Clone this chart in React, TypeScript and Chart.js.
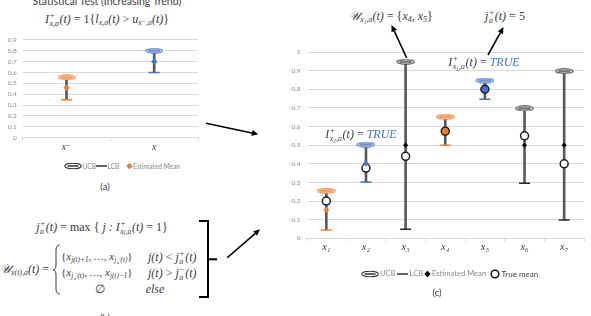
import React, { useEffect, useRef } from "react";
import { Chart, registerables } from "chart.js";

Chart.register(...registerables);

// ---- panel (a): two-arm increasing-trend test ----
const trendCategories = ["x⁻", "x"];
const trendUcb = [0.555, 0.8];
const trendLcb = [0.35, 0.6];
const trendMean = [0.46, 0.7];
const trendKinds: Kind[] = ["orange", "blue"];
const trendTickLabels = ["0", "0.1", "0.2", "0.3", "0.4", "0.5", "0.6", "0.7", "0.8", "0.9"];

// ---- panel (c): seven arms with confidence bounds ----
const armCategories = ["x₁", "x₂", "x₃", "x₄", "x₅", "x₆", "x₇"];
const armUcb = [0.255, 0.503, 0.948, 0.652, 0.847, 0.697, 0.897];
const armLcb = [0.045, 0.302, 0.048, 0.5, 0.747, 0.295, 0.098];
const armEstMean = [0.153, 0.402, 0.5, 0.578, 0.8, 0.5, 0.5];
const armTrueMean = [0.2, 0.377, 0.44, 0.575, 0.8, 0.55, 0.4];
const armKinds: Kind[] = ["orange", "blue", "gray", "orange", "blue", "gray", "gray"];
const armTickLabels = ["0", "0.1", "0.2", "0.3", "0.4", "0.5", "0.6", "0.7", "0.8", "0.9", "1"];

type Kind = "orange" | "blue" | "gray";

const palette: Record<Kind, { stroke: string; fill: string; mark: string; cap: string }> = {
  orange: { stroke: "#ED7D31", fill: "#FBE5D6", mark: "#ED7D31", cap: "#ED7D31" },
  blue: { stroke: "#4472C4", fill: "#DAE3F3", mark: "#4472C4", cap: "#4472C4" },
  gray: { stroke: "#3a3a3a", fill: "#FFFFFF", mark: "#000000", cap: "#262626" },
};

const tickFont = "Lato, 'Open Sans', sans-serif";
const mathFont = "'Liberation Serif', 'DejaVu Serif', serif";
const GRID = "#d9d9d9";
const BAR = "#595959";

function ellipseMarker(stroke: string, fill: string, w: number, h: number) {
  const c = document.createElement("canvas");
  c.width = w;
  c.height = h;
  const g = c.getContext("2d")!;
  g.beginPath();
  g.ellipse(w / 2, h / 2, w / 2 - 0.8, h / 2 - 0.8, 0, 0, Math.PI * 2);
  g.fillStyle = fill;
  g.fill();
  g.lineWidth = 1.1;
  g.strokeStyle = stroke;
  g.stroke();
  g.beginPath();
  g.moveTo(w / 2 - w * 0.32, h / 2);
  g.lineTo(w / 2 + w * 0.32, h / 2);
  g.lineWidth = 1.4;
  g.stroke();
  return c;
}

interface IntervalChartProps {
  categories: string[];
  ucb: number[];
  lcb: number[];
  est: number[];
  truth?: number[];
  kinds: Kind[];
  yMax: number;
  tickLabels: string[];
  left: number;
  top: number;
  width: number;
  height: number;
  padTop: number;
  padRight: number;
  yWidth: number;
  xHeight: number;
  ellipse: [number, number];
  diamond: number[];
  catFontSize: number;
  catPadding: number;
}

function IntervalChart(p: IntervalChartProps) {
  const ref = useRef<HTMLCanvasElement>(null);
  useEffect(() => {
    const ellipses = p.kinds.map((k) => ellipseMarker(palette[k].stroke, palette[k].fill, p.ellipse[0], p.ellipse[1]));
    const datasets: any[] = [
      {
        type: "bar",
        label: "range",
        data: p.lcb.map((l, i) => [l, p.ucb[i]]),
        backgroundColor: BAR,
        borderWidth: 0,
        barThickness: 2,
        order: 6,
      },
      {
        type: "line",
        label: "LCB",
        data: p.lcb,
        showLine: false,
        pointStyle: "line",
        pointRadius: 5.5,
        pointBorderWidth: 1.5,
        pointBorderColor: p.kinds.map((k) => palette[k].cap),
        order: 5,
      },
      {
        type: "line",
        label: "UCB",
        data: p.ucb,
        showLine: false,
        pointStyle: ellipses,
        pointRadius: 4,
        order: 4,
      },
      {
        type: "line",
        label: "Estimated Mean",
        data: p.est,
        showLine: false,
        pointStyle: "rectRot",
        pointRadius: p.diamond,
        pointBorderWidth: 0,
        pointBackgroundColor: p.kinds.map((k) => palette[k].mark),
        pointBorderColor: p.kinds.map((k) => palette[k].mark),
        order: 2,
      },
    ];
    if (p.truth) {
      datasets.push({
        type: "line",
        label: "True mean",
        data: p.truth,
        showLine: false,
        pointStyle: "circle",
        pointRadius: 4,
        pointBorderWidth: 1.5,
        pointBorderColor: "#1e1e1e",
        pointBackgroundColor: p.kinds.map((k, i) =>
          Math.abs(p.truth![i] - p.est[i]) < 0.01 ? palette[k].mark : "#FFFFFF"
        ),
        order: 3,
      });
    }
    const chart = new Chart(ref.current!, {
      type: "bar",
      data: { labels: p.categories, datasets },
      options: {
        animation: false,
        responsive: false,
        maintainAspectRatio: false,
        events: [],
        layout: { padding: { top: p.padTop, right: p.padRight, left: 0, bottom: 0 } },
        plugins: { legend: { display: false }, tooltip: { enabled: false } },
        scales: {
          x: {
            grid: { display: true, drawOnChartArea: false, drawTicks: true, tickLength: 3, color: GRID, offset: true },
            border: { color: GRID },
            ticks: {
              font: { family: mathFont, size: p.catFontSize, style: "italic" },
              color: "#404040",
              padding: p.catPadding,
            },
            afterFit: (s: any) => {
              s.height = p.xHeight;
            },
          },
          y: {
            min: 0,
            max: p.yMax,
            ticks: {
              stepSize: 0.1,
              callback: (_v: any, i: number) => p.tickLabels[i],
              font: { family: tickFont, size: 6.5 },
              color: "#8c8c8c",
              padding: 6,
            },
            grid: { color: GRID, drawTicks: false },
            border: { display: false },
            afterFit: (s: any) => {
              s.width = p.yWidth;
            },
          },
        },
      } as any,
    });
    return () => chart.destroy();
  }, []);
  return (
    <canvas
      ref={ref}
      width={p.width}
      height={p.height}
      style={{ position: "absolute", left: p.left, top: p.top, width: p.width, height: p.height }}
    />
  );
}

function Tx({
  x,
  y,
  anchor = "center",
  children,
  style,
}: {
  x: number;
  y: number;
  anchor?: "center" | "left";
  children: React.ReactNode;
  style?: React.CSSProperties;
}) {
  const tx = anchor === "center" ? "-50%" : "0";
  return (
    <div
      style={{
        position: "absolute",
        left: x,
        top: y,
        transform: `translate(${tx}, -50%)`,
        whiteSpace: "nowrap",
        lineHeight: 1,
        ...style,
      }}
    >
      {children}
    </div>
  );
}

function SS({ sup, sub }: { sup?: React.ReactNode; sub?: React.ReactNode }) {
  return (
    <span
      style={{
        display: "inline-flex",
        flexDirection: "column",
        verticalAlign: "middle",
        fontSize: "0.66em",
        lineHeight: 1.0,
        margin: "0 0.5px",
      }}
    >
      <span>{sup ?? "\u00a0"}</span>
      <span>{sub ?? "\u00a0"}</span>
    </span>
  );
}
const Sb = ({ children }: { children: React.ReactNode }) => (
  <span style={{ fontSize: "0.66em", verticalAlign: "-0.3em" }}>{children}</span>
);
const Up = ({ children }: { children: React.ReactNode }) => <span style={{ fontStyle: "normal" }}>{children}</span>;

const mathStyle: React.CSSProperties = { fontFamily: mathFont, fontStyle: "italic", fontSize: 12, color: "#3a3a3a" };
const caseStyle: React.CSSProperties = { ...mathStyle, fontSize: 11 };
const SCRIPT_U = "𝒰";

function Arrow({ x1, y1, x2, y2 }: { x1: number; y1: number; x2: number; y2: number }) {
  const a = Math.atan2(y2 - y1, x2 - x1);
  const L = 6.5;
  const W = 3;
  const bx = x2 - L * Math.cos(a);
  const by = y2 - L * Math.sin(a);
  const px = -Math.sin(a) * W;
  const py = Math.cos(a) * W;
  return (
    <g>
      <line x1={x1} y1={y1} x2={bx} y2={by} stroke="#000" strokeWidth={1.6} />
      <polygon points={`${x2},${y2} ${bx + px},${by + py} ${bx - px},${by - py}`} fill="#000" />
    </g>
  );
}

function LegendEllipse() {
  return (
    <svg width={18} height={7} style={{ verticalAlign: "middle" }}>
      <ellipse cx={9} cy={3.5} rx={8.3} ry={2.8} fill="#fff" stroke="#333" strokeWidth={1.1} />
      <line x1={3.5} y1={3.5} x2={14.5} y2={3.5} stroke="#333" strokeWidth={1.3} />
    </svg>
  );
}
function LegendLine() {
  return (
    <svg width={11} height={4} style={{ verticalAlign: "middle" }}>
      <line x1={0} y1={2} x2={11} y2={2} stroke="#333" strokeWidth={1.5} />
    </svg>
  );
}
function LegendDiamond({ color }: { color: string }) {
  return (
    <svg width={7} height={7} style={{ verticalAlign: "middle" }}>
      <polygon points="3.5,0.3 6.7,3.5 3.5,6.7 0.3,3.5" fill={color} />
    </svg>
  );
}
function LegendCircle() {
  return (
    <svg width={10} height={10} style={{ verticalAlign: "middle" }}>
      <circle cx={5} cy={5} r={3.8} fill="#fff" stroke="#111" strokeWidth={1.5} />
    </svg>
  );
}

// a legend entry anchored at a fixed left edge
function Pin({ x, y, children }: { x: number; y: number; children: React.ReactNode }) {
  return (
    <div style={{ position: "absolute", left: x, top: y, transform: "translateY(-50%)", whiteSpace: "nowrap", lineHeight: 1, display: "flex", alignItems: "center" }}>
      {children}
    </div>
  );
}

const legendA: React.CSSProperties = { fontFamily: tickFont, fontSize: 6.6, color: "#8c8c8c" };
const legendC: React.CSSProperties = { fontFamily: tickFont, fontSize: 7.6, color: "#8c8c8c" };

export default function App() {
  return (
    <div
      style={{
        position: "absolute",
        left: 0,
        top: 0,
        width: 591,
        height: 316,
        overflow: "hidden",
        background: "#fff",
      }}
    >
      {/* (a) header */}
      <Tx x={107} y={1} style={{ fontFamily: tickFont, fontSize: 10.5, color: "#404040" }}>
        Statistical Test (Increasing Trend)
      </Tx>
      <Tx x={107} y={20} style={mathStyle}>
        I<SS sup="+" sub="x,a" />(t) <Up>= 1{"{"}</Up>l<Sb>x,a</Sb>(t) <Up>&gt;</Up> u<Sb>x⁻,a</Sb>(t)<Up>{"}"}</Up>
      </Tx>

      <IntervalChart
        categories={trendCategories}
        ucb={trendUcb}
        lcb={trendLcb}
        est={trendMean}
        kinds={trendKinds}
        yMax={0.9}
        tickLabels={trendTickLabels}
        left={0}
        top={30}
        width={205}
        height={125}
        padTop={7.3}
        padRight={5}
        yWidth={22.7}
        xHeight={17.3}
        ellipse={[18, 6]}
        diamond={[3.2, 3.2]}
        catFontSize={10}
        catPadding={1}
      />

      {/* (a) legend */}
      <Pin x={64} y={165.5}><LegendEllipse /></Pin>
      <Pin x={82.5} y={165.5}><span style={legendA}>UCB</span></Pin>
      <Pin x={96} y={165.5}><LegendLine /></Pin>
      <Pin x={107.5} y={165.5}><span style={legendA}>LCB</span></Pin>
      <Pin x={125.5} y={165.5}><LegendDiamond color="#ED7D31" /></Pin>
      <Pin x={133} y={165.5}><span style={legendA}>Estimated Mean</span></Pin>
      <Tx x={105} y={187} style={{ fontFamily: tickFont, fontSize: 9.5, color: "#404040" }}>
        (a)
      </Tx>

      {/* (b) formulas */}
      <Tx x={102} y={228} style={mathStyle}>
        j<SS sup="+" sub="a" />(t) <Up>= max {"{"}</Up> j : I<SS sup="+" sub={<>x<span style={{ fontSize: "0.8em" }}>j</span>,a</>} />(t) <Up>= 1{"}"}</Up>
      </Tx>
      <Tx x={0} y={270} anchor="left" style={mathStyle}>
        {SCRIPT_U}
        <Sb>x(t),a</Sb>(t) <Up>=</Up>
      </Tx>
      <Tx x={61} y={258} anchor="left" style={caseStyle}>
        <Up>{"{"}</Up>x<Sb>j(t)+1</Sb>, …, x
        <Sb>
          j<SS sup="+" sub="a" />(t)
        </Sb>
        <Up>{"}"}</Up>
      </Tx>
      <Tx x={148} y={258} anchor="left" style={mathStyle}>
        j(t) <Up>&lt;</Up> j<SS sup="+" sub="a" />(t)
      </Tx>
      <Tx x={61} y={274} anchor="left" style={caseStyle}>
        <Up>{"{"}</Up>x
        <Sb>
          j<SS sup="−" sub="a" />(t)
        </Sb>
        , …, x<Sb>j(t)−1</Sb>
        <Up>{"}"}</Up>
      </Tx>
      <Tx x={148} y={274} anchor="left" style={mathStyle}>
        j(t) <Up>&gt;</Up> j<SS sup="−" sub="a" />(t)
      </Tx>
      <Tx x={100} y={289} style={mathStyle}>
        <Up>∅</Up>
      </Tx>
      <Tx x={155} y={289} style={mathStyle}>
        else
      </Tx>
      <Tx x={105} y={318} style={{ fontFamily: tickFont, fontSize: 9.5, color: "#404040" }}>
        (b)
      </Tx>

      <IntervalChart
        categories={armCategories}
        ucb={armUcb}
        lcb={armLcb}
        est={armEstMean}
        truth={armTrueMean}
        kinds={armKinds}
        yMax={1}
        tickLabels={armTickLabels}
        left={270}
        top={40}
        width={321}
        height={215}
        padTop={12}
        padRight={1}
        yWidth={36.5}
        xHeight={16.7}
        ellipse={[19, 6]}
        diamond={[3, 3, 2.6, 3, 3, 2.6, 2.6]}
        catFontSize={10.5}
        catPadding={0}
      />

      {/* (c) annotations */}
      <Tx x={391} y={17} style={mathStyle}>
        {SCRIPT_U}
        <Sb>x₃,a</Sb>(t) <Up>= {"{"}</Up>x<Sb>4</Sb>, x<Sb>5</Sb>
        <Up>{"}"}</Up>
      </Tx>
      <Tx x={505} y={17} style={mathStyle}>
        j<SS sup="+" sub="a" />(t) <Up>= 5</Up>
      </Tx>
      <Tx x={484} y={63} style={mathStyle}>
        I<SS sup="+" sub="x₅,a" />(t) <Up>=</Up> <span style={{ color: "#4472C4" }}>TRUE</span>
      </Tx>
      <Tx x={361} y={135} style={mathStyle}>
        I<SS sup="+" sub="x₂,a" />(t) <Up>=</Up> <span style={{ color: "#4472C4" }}>TRUE</span>
      </Tx>

      {/* (c) legend */}
      <Pin x={360.5} y={274}><LegendEllipse /></Pin>
      <Pin x={380} y={274}><span style={legendC}>UCB</span></Pin>
      <Pin x={397} y={274}><LegendLine /></Pin>
      <Pin x={409.5} y={274}><span style={legendC}>LCB</span></Pin>
      <Pin x={423.5} y={274}><LegendDiamond color="#000" /></Pin>
      <Pin x={432} y={274}><span style={legendC}>Estimated Mean</span></Pin>
      <Pin x={490} y={274}><LegendCircle /></Pin>
      <Pin x={501.5} y={274}><span style={{ ...legendC, color: "#404040", fontSize: 8 }}>True mean</span></Pin>
      <Tx x={437} y={293} style={{ fontFamily: tickFont, fontSize: 9.5, color: "#404040" }}>
        (c)
      </Tx>

      {/* connectors, brackets */}
      <svg width={591} height={316} style={{ position: "absolute", left: 0, top: 0, pointerEvents: "none" }}>
        <Arrow x1={406.7} y1={58} x2={391.5} y2={25} />
        <Arrow x1={488} y1={55} x2={503.5} y2={27} />
        <Arrow x1={206} y1={123.3} x2={258.3} y2={134.3} />
        <Arrow x1={227.3} y1={257.7} x2={260} y2={229.3} />
        <polyline points="199,221 208,221 208,297 199,297" fill="none" stroke="#000" strokeWidth={2} />
        <line x1={208} y1={259.3} x2={217} y2={259.3} stroke="#000" strokeWidth={2} />
        <path
          d="M 60 245 Q 56 245 56 250 L 56 265 Q 56 270 53 270 Q 56 270 56 275 L 56 289 Q 56 294 60 294"
          fill="none"
          stroke="#3a3a3a"
          strokeWidth={1}
        />
      </svg>
    </div>
  );
}
